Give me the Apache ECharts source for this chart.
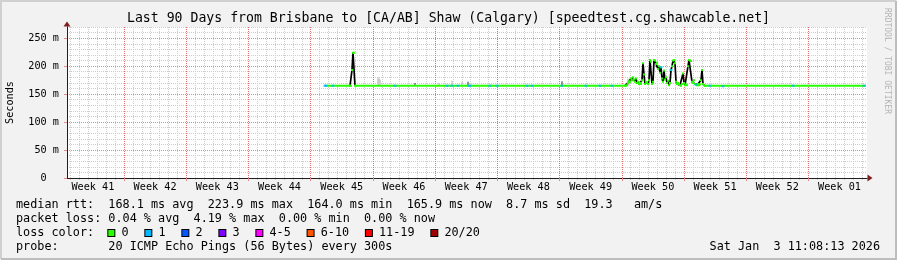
<!DOCTYPE html>
<html><head><meta charset="utf-8">
<script src="https://cdn.jsdelivr.net/npm/echarts@6/dist/echarts.min.js"></script>
<style>html,body{margin:0;padding:0;background:#f2f2f2;} #c{width:897px;height:260px;}</style>
</head><body><div id="c"></div>
<script>
// ---------------- data ----------------
const titleText = 'Last 90 Days from Brisbane to [CA/AB] Shaw (Calgary) [speedtest.cg.shawcable.net]';
const rangeDays = 90;            // graph covers 90 days
const stepsInRange = 800;        // consolidated RRD steps across the graph
const firstWeekStartDay = 6.41;  // days from graph start to first Monday 00:00
const weekLabels = ['Week 41','Week 42','Week 43','Week 44','Week 45','Week 46','Week 47',
                    'Week 48','Week 49','Week 50','Week 51','Week 52','Week 01'];
const yTickValues = [0, 50, 100, 150, 200, 250];
const yMax = 270;

// median rtt, loss 0, flat stretches  [step, ms]  (null = gap)
const medianFlat = [[258,165],[283,165],null,[288,165],[347,165],[348,167],[349,165],[352,165],[353,167],[354,165],
  [399,165],[400,168],[401,166],[402,165],[559,165],null,[637,165],[799,165]];
// median rtt, volatile stretches [step, ms]
const spikeA = [[283,165],[284,165],[285,193],[286,224],[287,224],[288,165]];
const regionStart = 558;
const regionValues = [165,165,166,170,173,172,178,175,180,176,172,178,170,172,168,170,168,175,205,185,
  168,172,170,168,175,211,208,168,172,211,210,204,206,195,200,188,198,178,172,192,
  176,180,170,174,166,170,193,200,210,211,205,172,168,170,168,166,165,168,187,170,
  166,167,166,200,211,210,209,172,170,175,168,167,166,168,166,167,175,193,168,166,165];
// loss 1/20 points [step, ms]
const lossOne = [[258,165],[259,165],[266,165],[328,165],[380,165],[385,165],[391,165],[402,165],[403,165],
  [423,165],[430,165],[460,165],[465,165],[495,165],[519,165],[533,165],[545,165],[594,198],[604,193],
  [629,167],[643,165],[656,164],[726,165],[797,165]];
// smoke (ping spread) [step, top ms]
const smokeLight = [[311,180],[312,178],[313,176],[372,170],[385,174],[395,172],[561,178],[562,176]];
const smokeDark = [[348,170],[401,172],[495,173]];
const smokeBase = 165;

const medianLegend = 'median rtt:  168.1 ms avg  223.9 ms max  164.0 ms min  165.9 ms now  8.7 ms sd  19.3   am/s';
const lossLegend = 'packet loss: 0.04 % avg  4.19 % max  0.00 % min  0.00 % now';
const lossColors = [['0','#26ff00'],['1','#00b8ff'],['2','#0059ff'],['3','#7e00ff'],['4-5','#ff00ff'],
  ['6-10','#ff5500'],['11-19','#ff0000'],['20/20','#a10000']];
const probeText = 'probe:       20 ICMP Echo Pings (56 Bytes) every 300s';
const dateText = 'Sat Jan  3 11:08:13 2026';

// ---------------- build ----------------
const MONO = '"DejaVu Sans Mono", monospace';
const toDay = s => s * rangeDays / stepsInRange;
const pts = arr => arr.map(p => p ? [toDay(p[0]), p[1]] : ['-', '-']);
const verticals = arr => { const o = []; arr.forEach(p => { o.push([toDay(p[0]), smokeBase], [toDay(p[0]), p[1]], ['-','-']); }); return o; };
const regionPts = regionValues.map((v, i) => [toDay(regionStart + i), v]);
const volatile = pts(spikeA).concat([['-','-']], regionPts);

const weekLines = [], dayLines = [], weekCenters = [];
for (let k = 0; firstWeekStartDay + 7 * k <= rangeDays; k++) weekLines.push(firstWeekStartDay + 7 * k);
for (let k = 0; firstWeekStartDay - 6 + k <= rangeDays; k++) if (k % 7 !== 6) dayLines.push(firstWeekStartDay - 6 + k);
for (let k = 0; k < weekLabels.length; k++) weekCenters.push(firstWeekStartDay - 3.5 + 7 * k);

const rich = { g: { width: 2.6 } };
let lossText = 'loss color:  ';
lossColors.forEach((c, i) => {
  rich['b' + i] = { width: 6, height: 6, backgroundColor: c[1], borderColor: '#000', borderWidth: 1 };
  lossText += (i ? '{g|}' : '') + '{b' + i + '|} ' + c[0] + (i < lossColors.length - 1 ? '  ' : '');
});

const legendStyle = { fontFamily: MONO, fontSize: 11.8, fontWeight: 'normal', color: '#000', lineHeight: 14 };
const MAJ = '#e98a8a', MAJV = '#e27070', MIN = '#cdcdcd';

const chart = echarts.init(document.getElementById('c'), null, { renderer: 'canvas' });
chart.setOption({
  animation: false,
  backgroundColor: '#f2f2f2',
  title: [
    { text: titleText, left: 'center', top: 11, padding: 0,
      textStyle: { fontFamily: MONO, fontSize: 13.2, fontWeight: 'normal', color: '#000', lineHeight: 16 } },
    { text: medianLegend, left: 16, top: 198, padding: 0, textStyle: legendStyle },
    { text: lossLegend, left: 16, top: 212, padding: 0, textStyle: legendStyle },
    { text: lossText, left: 16, top: 226, padding: 0, textStyle: Object.assign({ rich: rich }, legendStyle) },
    { text: probeText, left: 16, top: 240, padding: 0, textStyle: legendStyle },
    { text: dateText, right: 17, top: 240, padding: 0, textStyle: legendStyle }
  ],
  grid: { left: 67, right: 30, top: 27, bottom: 82, show: true, backgroundColor: '#ffffff', borderWidth: 0,
          outerBoundsMode: 'none', containLabel: false },
  xAxis: [
    { type: 'value', min: 0, max: rangeDays, position: 'bottom', z: 0,
      axisLine: { show: true, onZero: false, symbol: ['none', 'triangle'], symbolSize: [7, 5], symbolOffset: [0, 3], lineStyle: { color: '#7f1f1f' } },
      axisTick: { show: true, length: 2, customValues: dayLines, lineStyle: { color: MIN } },
      axisLabel: { show: false },
      splitLine: { show: true, lineStyle: { color: MIN, type: [1, 1], width: 1 } } },
    { type: 'value', min: 0, max: rangeDays, position: 'bottom', z: 1,
      axisLine: { show: true, onZero: false, lineStyle: { color: '#1f1f1f' } },
      axisTick: { show: true, length: 3, customValues: weekLines, lineStyle: { color: MAJ } },
      axisLabel: { customValues: weekCenters, margin: 4, fontFamily: MONO, fontSize: 10.2, color: '#000',
        formatter: v => weekLabels[Math.round((v - firstWeekStartDay + 3.5) / 7)] },
      splitLine: { show: true, lineStyle: { color: MAJV, type: [1, 1], width: 1 } } }
  ],
  yAxis: [
    { type: 'value', min: 0, max: yMax, interval: 10, position: 'left', z: 0,
      axisLine: { show: true, onZero: false, symbol: ['none', 'triangle'], symbolSize: [7, 5], symbolOffset: [0, 3], lineStyle: { color: '#7f1f1f' } },
      axisTick: { show: false }, axisLabel: { show: false },
      splitLine: { show: true, lineStyle: { color: MIN, type: [1, 1], width: 1 } } },
    { type: 'value', min: 0, max: yMax, position: 'left', z: 1,
      name: 'Seconds', nameLocation: 'middle', nameGap: 52, nameRotate: 90,
      nameTextStyle: { fontFamily: MONO, fontSize: 10.2, color: '#000' },
      axisLine: { show: true, onZero: false, lineStyle: { color: '#1f1f1f' } },
      axisTick: { show: true, length: 3, customValues: yTickValues, lineStyle: { color: MAJ } },
      axisLabel: { customValues: yTickValues, margin: 8, fontFamily: MONO, fontSize: 10.2, color: '#000',
        formatter: v => v === 0 ? '0  ' : v + ' m' },
      splitLine: { show: true, lineStyle: { color: MAJ, type: [1, 1], width: 1 } } }
  ],
  graphic: [
    { type: 'polyline', silent: true, shape: { points: [[1, 259], [1, 1], [896, 1]] }, style: { stroke: '#d0d0d0', lineWidth: 2, fill: null } },
    { type: 'polyline', silent: true, shape: { points: [[1, 259], [896, 259], [896, 1]] }, style: { stroke: '#bdbdbd', lineWidth: 2, fill: null } },
    { type: 'text', silent: true, x: 891, y: 8, rotation: -Math.PI / 2,
      style: { text: 'RRDTOOL / TOBI OETIKER', fill: '#b5b5b5', font: '8px "DejaVu Sans Mono"', verticalAlign: 'top', align: 'left' } }
  ],
  series: [
    { name: 'smoke light', type: 'line', xAxisIndex: 1, yAxisIndex: 1, data: verticals(smokeLight), showSymbol: false,
      lineStyle: { color: '#cacaca', width: 1.5 }, silent: true, z: 1 },
    { name: 'smoke dark', type: 'line', xAxisIndex: 1, yAxisIndex: 1, data: verticals(smokeDark), showSymbol: false,
      lineStyle: { color: '#707070', width: 1.5 }, silent: true, z: 1 },
    { name: 'median volatile', type: 'line', xAxisIndex: 1, yAxisIndex: 1, data: volatile,
      showSymbol: true, symbol: 'rect', symbolSize: [2, 2], itemStyle: { color: '#26ff00' },
      lineStyle: { color: '#000000', width: 1.7 }, silent: true, z: 3 },
    { name: 'median', type: 'line', xAxisIndex: 1, yAxisIndex: 1, data: pts(medianFlat), showSymbol: false,
      lineStyle: { color: '#26ff00', width: 2 }, silent: true, z: 3 },
    { name: 'loss 1', type: 'scatter', xAxisIndex: 1, yAxisIndex: 1, data: pts(lossOne),
      symbol: 'rect', symbolSize: [3, 2], itemStyle: { color: '#00b8ff' }, silent: true, z: 4 }
  ]
});
</script></body></html>
